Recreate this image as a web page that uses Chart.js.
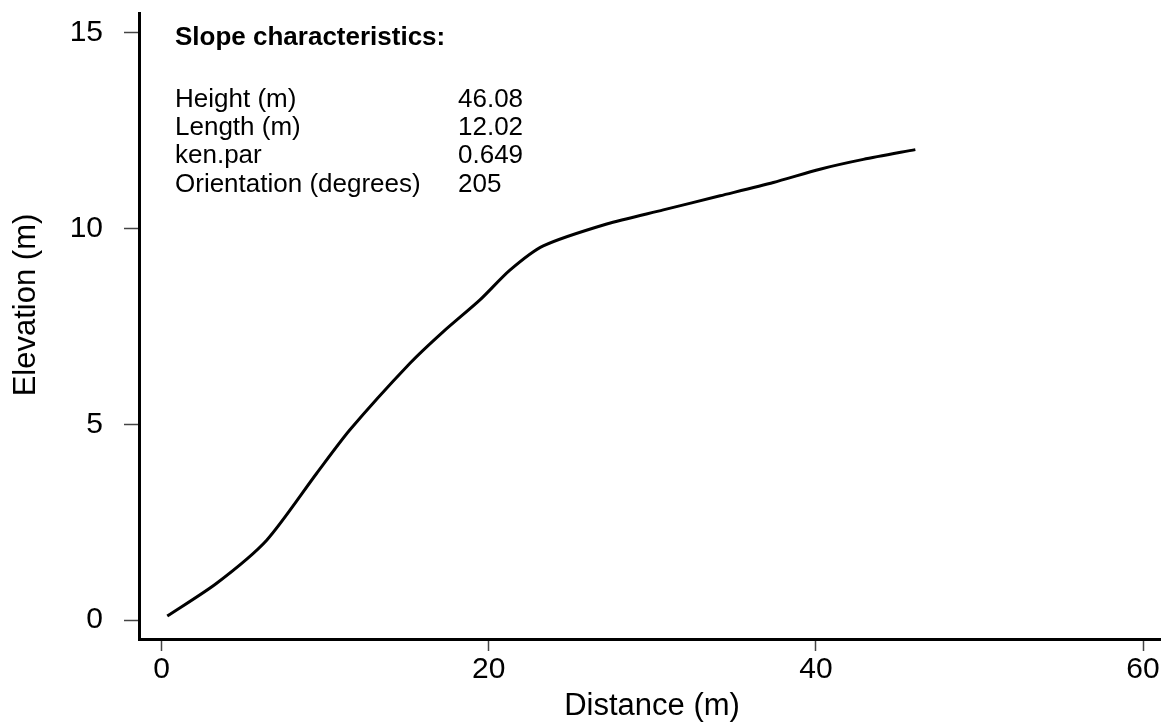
<!DOCTYPE html>
<html>
<head>
<meta charset="utf-8">
<script src="https://cdn.jsdelivr.net/npm/chart.js@4/dist/chart.umd.min.js"></script>
<style>
  html, body { margin: 0; padding: 0; background: #fff; }
  #wrap { position: relative; width: 1161px; height: 723px; }
</style>
</head>
<body>
<div id="wrap"><canvas id="c" width="1161" height="723"></canvas></div>
<script>
// ---- data ----
const distance  = [0.34, 3.36, 6.42, 9.48, 11.51, 15.18, 17.22, 19.46, 21.29, 23.33, 27.21, 30.67, 34.14, 37.40, 40.25, 42.90, 46.08];
const elevation = [0.10, 0.94, 2.04, 3.75, 4.86, 6.56, 7.37, 8.18, 8.94, 9.56, 10.12, 10.48, 10.84, 11.18, 11.52, 11.77, 12.02];
const xTicks = [0, 20, 40, 60];
const yTicks = [0, 5, 10, 15];
const infoTitle = 'Slope characteristics:';
const infoLabels = ['Height (m)', 'Length (m)', 'ken.par', 'Orientation (degrees)'];
const infoValues = ['46.08', '12.02', '0.649', '205'];
const xTitle = 'Distance (m)';
const yTitle = 'Elevation (m)';

const FONT = '"Liberation Sans", Arial, Helvetica, sans-serif';

const textPlugin = {
  id: 'textPlugin',
  afterDraw(chart) {
    const ctx = chart.ctx;
    ctx.save();
    ctx.fillStyle = '#000';
    ctx.textAlign = 'left';
    ctx.textBaseline = 'alphabetic';
    ctx.font = 'bold 26px ' + FONT;
    ctx.fillText(infoTitle, 175, 45);
    ctx.font = '26px ' + FONT;
    const base = [107, 135, 163, 192];
    infoLabels.forEach((t, i) => {
      ctx.fillText(t, 175, base[i]);
      ctx.fillText(infoValues[i], 458, base[i]);
    });
    // axis titles
    ctx.font = '31px ' + FONT;
    ctx.textAlign = 'center';
    ctx.fillText(xTitle, 652, 715);
    ctx.translate(35, 305);
    ctx.rotate(-Math.PI / 2);
    ctx.fillText(yTitle, 0, 0);
    ctx.restore();
  }
};

function zeroPad(s) {
  s.paddingTop = 0; s.paddingBottom = 0; s.paddingLeft = 0; s.paddingRight = 0;
}

new Chart(document.getElementById('c'), {
  type: 'line',
  data: {
    datasets: [{
      data: distance.map((d, i) => ({ x: d, y: elevation[i] })),
      borderColor: '#000',
      borderWidth: 3,
      pointRadius: 0,
      tension: 0.25,
      fill: false
    }]
  },
  options: {
    responsive: false,
    animation: false,
    devicePixelRatio: 1,
    layout: { padding: { top: 13, right: 0, left: 0, bottom: 0 } },
    plugins: { legend: { display: false }, tooltip: { enabled: false } },
    scales: {
      x: {
        type: 'linear',
        min: -1.388,
        max: 61.10,
        afterBuildTicks: s => { s.ticks = xTicks.map(v => ({ value: v })); },
        afterFit: s => { s.height = 84; zeroPad(s); },
        border: { display: true, color: '#000', width: 3 },
        grid: { display: true, drawOnChartArea: false, drawTicks: true, tickLength: 12, tickColor: '#444', tickWidth: 1.5 },
        ticks: { color: '#000', font: { family: FONT, size: 30 }, padding: 1, maxRotation: 0 }
      },
      y: {
        type: 'linear',
        min: -0.4855,
        max: 15.511,
        afterBuildTicks: s => { s.ticks = yTicks.map(v => ({ value: v })); },
        afterFit: s => { s.width = 139; zeroPad(s); },
        border: { display: true, color: '#000', width: 3 },
        grid: { display: true, drawOnChartArea: false, drawTicks: true, tickLength: 15, tickColor: '#444', tickWidth: 1.5 },
        ticks: { color: '#000', font: { family: FONT, size: 30 }, padding: 21 }
      }
    }
  },
  plugins: [textPlugin]
});
</script>
</body>
</html>
